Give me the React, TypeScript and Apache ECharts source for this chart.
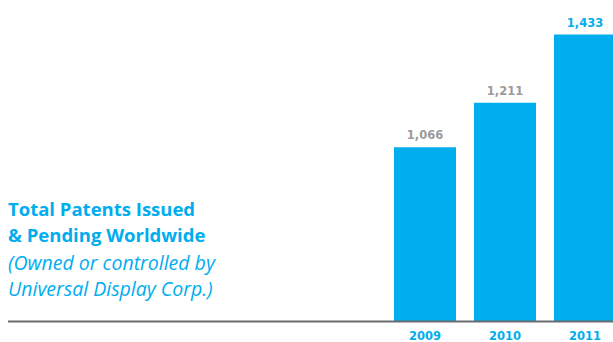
import React, { useEffect, useRef } from "react";
import * as echarts from "echarts";

const categories = ["2009", "2010", "2011"];
const values = [1066, 1211, 1433];
const titleLines = ["Total Patents Issued", "& Pending Worldwide"];
const subtitleLines = ["(Owned or controlled by", "Universal Display Corp.)"];

const BLUE = "#00ADEE";
const GRAY = "#9B9B9B";
const FONT = "'Open Sans', Lato, sans-serif";
const NUM_FONT = "'DejaVu Sans', 'Open Sans', sans-serif";

export default function App() {
  const ref = useRef<HTMLDivElement>(null);
  useEffect(() => {
    if (!ref.current) return;
    const chart = echarts.init(ref.current, null, { renderer: "svg" });
    chart.setOption({
      animation: false,
      backgroundColor: "#ffffff",
      grid: {
        left: 385,
        width: 240,
        top: 14,
        bottom: 21,
        outerBoundsMode: "none",
        containLabel: false,
      },
      xAxis: {
        type: "category",
        data: categories,
        axisLine: { show: false },
        axisTick: { show: false },
        axisLabel: {
          color: BLUE,
          fontFamily: NUM_FONT,
          fontWeight: "bold",
          fontSize: 11.5,
          lineHeight: 11,
          margin: 9,
        },
      },
      yAxis: {
        type: "value",
        min: 500,
        max: 1500,
        show: false,
        splitLine: { show: false },
      },
      series: [
        {
          type: "bar",
          barWidth: 62,
          itemStyle: { color: BLUE },
          label: {
            show: true,
            position: "top",
            distance: 6,
            fontFamily: NUM_FONT,
            fontWeight: "bold",
            fontSize: 11.5,
            formatter: (p: any) => Number(p.value).toLocaleString("en-US"),
          },
          data: values.map((v, i) => ({
            value: v,
            label: { color: i === values.length - 1 ? BLUE : GRAY },
          })),
        },
      ],
      graphic: [
        {
          type: "line",
          shape: { x1: 8, y1: 321.5, x2: 613, y2: 321.5 },
          style: { stroke: "#6a6d70", lineWidth: 2 },
          z: 10,
        },
        ...titleLines.map((t, i) => ({
          type: "text",
          x: 8,
          y: 208 + i * 26,
          style: {
            text: t,
            fill: BLUE,
            font: `bold 18.5px ${FONT}`,
            textVerticalAlign: "middle",
          },
        })),
        ...subtitleLines.map((t, i) => ({
          type: "text",
          x: 8,
          y: 262 + i * 26,
          style: {
            text: t,
            fill: BLUE,
            font: `italic 19.5px ${FONT}`,
            textVerticalAlign: "middle",
          },
        })),
      ],
    });
    return () => chart.dispose();
  }, []);
  return (
    <div
      ref={ref}
      style={{ position: "fixed", left: 0, top: 0, width: 613, height: 342 }}
    />
  );
}
